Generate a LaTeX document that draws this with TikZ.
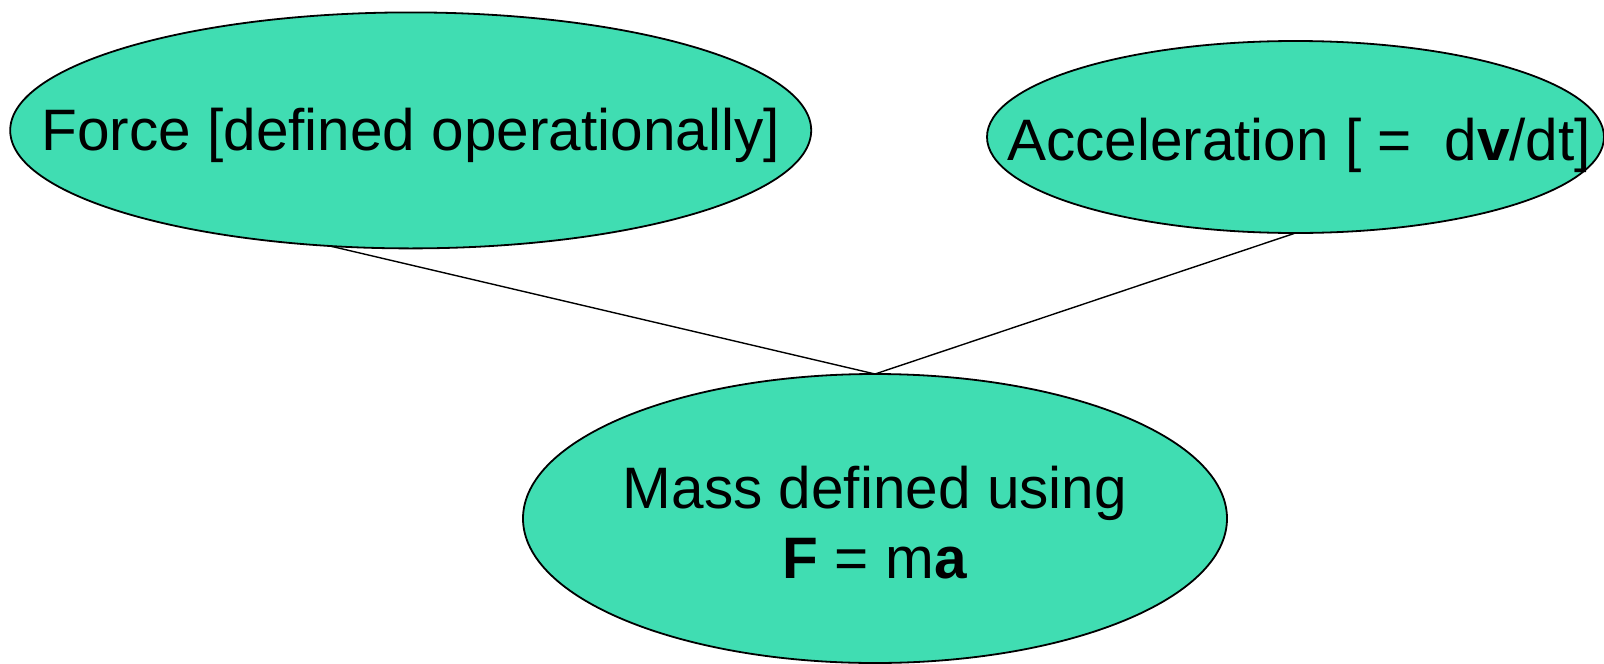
\documentclass[tikz,border=0pt]{standalone}
\usepackage{fontspec}
\setmainfont{Liberation Sans}
\usetikzlibrary{shapes.geometric}
\definecolor{blobfill}{RGB}{64,221,178}
\tikzset{
  blob/.style={ellipse, draw=black, line width=1.8pt, fill=blobfill, inner sep=0pt, outer sep=0pt},
  label/.style={align=center, inner sep=0pt, anchor=base, font=\fontsize{58.5}{70}\selectfont},
  link/.style={draw=black, line width=1.4pt}
}
\begin{document}
\begin{tikzpicture}[x=1pt,y=-1pt]
\useasboundingbox (0,0) rectangle (1604,664);
\node[blob, minimum width=801pt, minimum height=236pt] (force) at (410.7,130.4) {};
\node[blob, minimum width=617pt, minimum height=192pt] (accel) at (1295.5,137) {};
\node[blob, minimum width=704pt, minimum height=289pt] (mass) at (875,518.5) {};
\node[label] (forcet) at ([yshift=-20.3pt]force.center) {Force [defined operationally]};
\node[label] (accelt) at ([xshift=3.5pt,yshift=-23pt]accel.center) {Acceleration [ =\ \ d\textbf{v}/dt]};
\node[label] (masst) at ([yshift=-59.8pt]mass.center) {Mass defined using\\\textbf{F} = m\textbf{a}};
\draw[link] (force.235) -- (mass.north);
\draw[link] (accel.south) -- (mass.north);
\end{tikzpicture}
\end{document}
